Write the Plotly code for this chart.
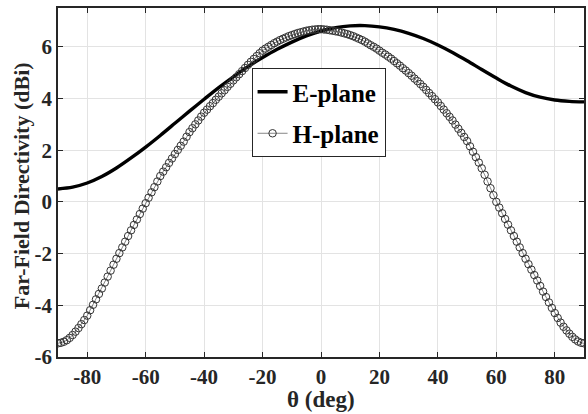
import plotly.graph_objects as go

# E-plane directivity (dBi), sampled every 5 degrees
e_theta = [-90, -85, -80, -75, -70, -65, -60, -55, -50, -45, -40, -35, -30, -25, -20, -15, -10, -5,
           0, 5, 10, 15, 20, 25, 30, 35, 40, 45, 50, 55, 60, 65, 70, 75, 80, 85, 90]
e_plane = [0.50, 0.57, 0.73, 0.98, 1.31, 1.70, 2.12, 2.57, 3.04, 3.51, 3.97, 4.42, 4.84, 5.23, 5.58, 5.90, 6.18, 6.42,
           6.61, 6.74, 6.81, 6.82, 6.77, 6.67, 6.52, 6.32, 6.07, 5.78, 5.46, 5.12, 4.79, 4.48, 4.23, 4.05, 3.94, 3.89, 3.87]

# H-plane directivity (dBi), sampled every degree from -90 to 90
h_theta = list(range(-90, 91))
h_plane = [
    -5.47, -5.45, -5.41, -5.35, -5.26, -5.15, -5.02, -4.88, -4.73, -4.57,
    -4.40, -4.19, -3.98, -3.77, -3.56, -3.35, -3.12, -2.89, -2.66, -2.43,
    -2.20, -1.98, -1.76, -1.54, -1.32, -1.10, -0.89, -0.68, -0.47, -0.26,
    -0.05, 0.16, 0.37, 0.57, 0.79, 1.00, 1.17, 1.34, 1.51, 1.68,
    1.85, 2.01, 2.17, 2.33, 2.52, 2.70, 2.85, 3.00, 3.15, 3.30,
    3.45, 3.57, 3.70, 3.82, 3.95, 4.07, 4.20, 4.32, 4.45, 4.57,
    4.70, 4.82, 4.94, 5.06, 5.18, 5.30, 5.42, 5.53, 5.64, 5.75,
    5.85, 5.93, 6.00, 6.07, 6.14, 6.20, 6.26, 6.31, 6.36, 6.41,
    6.45, 6.49, 6.53, 6.56, 6.59, 6.62, 6.64, 6.66, 6.67, 6.68,
    6.68,
    6.67, 6.66, 6.64, 6.62, 6.60, 6.58, 6.55, 6.52, 6.49, 6.45,
    6.41, 6.36, 6.31, 6.26, 6.20, 6.13, 6.06, 6.00, 5.93, 5.85,
    5.77, 5.70, 5.62, 5.54, 5.45, 5.36, 5.27, 5.17, 5.08, 4.98,
    4.88, 4.77, 4.67, 4.56, 4.45, 4.33, 4.21, 4.09, 3.97, 3.85,
    3.71, 3.57, 3.43, 3.29, 3.15, 2.99, 2.83, 2.67, 2.51, 2.35,
    2.15, 1.94, 1.73, 1.52, 1.30, 1.05, 0.79, 0.53, 0.26, 0.00,
    -0.22, -0.44, -0.66, -0.88, -1.10, -1.32, -1.54, -1.76, -1.98, -2.20,
    -2.41, -2.62, -2.83, -3.04, -3.25, -3.47, -3.68, -3.89, -4.10, -4.30,
    -4.49, -4.67, -4.83, -4.97, -5.10, -5.22, -5.32, -5.40, -5.45, -5.47,
]

x_ticks = [-80, -60, -40, -20, 0, 20, 40, 60, 80]
y_ticks = [-6, -4, -2, 0, 2, 4, 6]

FONT = "Times New Roman, Liberation Serif, serif"
INK = "#262626"

fig = go.Figure()
fig.add_trace(go.Scatter(
    x=e_theta, y=e_plane, name="<b>E-plane</b>", mode="lines", legendgroup="e",
    line=dict(color="black", width=3.4, shape="spline", smoothing=0.9),
))
fig.add_trace(go.Scatter(
    x=h_theta, y=h_plane, name="<b>H-plane</b>", mode="lines+markers", legendgroup="h",
    line=dict(color="#333333", width=0.6),
    marker=dict(symbol="circle-open", size=7.5, color="#333333", line=dict(width=1.0, color="#333333")),
))

axis_common = dict(
    showline=True, linecolor=INK, linewidth=1.5, mirror="ticks",
    ticks="inside", ticklen=5, tickwidth=1, tickcolor=INK,
    showgrid=True, gridcolor="#e3e3e3", gridwidth=1, zeroline=False,
    tickfont=dict(family=FONT, size=21, color=INK),
    automargin=False,
)

fig.update_layout(
    width=588, height=414,
    margin=dict(l=58, r=4, t=8, b=57),
    paper_bgcolor="white", plot_bgcolor="white",
    font=dict(family=FONT, color=INK),
    xaxis=dict(range=[-90, 90], tickvals=x_ticks, ticktext=[f"<b>{v}</b>" for v in x_ticks],
               **axis_common),
    yaxis=dict(range=[-6, 7.5], tickvals=y_ticks, ticktext=[f"<b>{v}</b>" for v in y_ticks],
               **axis_common),
    legend=dict(x=0.368, y=0.828, xanchor="left", yanchor="top",
                bgcolor="white", bordercolor=INK, borderwidth=1,
                font=dict(family=FONT, size=25, color="black"),
                itemwidth=30, tracegroupgap=6),
    showlegend=True,
    annotations=[
        dict(text="<b>θ (deg)</b>", xref="paper", yref="paper", x=0.5, y=-0.123,
             xanchor="center", yanchor="middle", showarrow=False,
             font=dict(family=FONT, size=23, color=INK)),
        dict(text="<b>Far-Field Directivity (dBi)</b>", xref="paper", yref="paper",
             x=-0.068, y=0.49, xanchor="center", yanchor="middle", textangle=-90, showarrow=False,
             font=dict(family=FONT, size=22, color=INK)),
    ],
)

fig.write_html("out.html", config={"displayModeBar": False},
               post_script="document.body.style.margin='0';document.body.style.overflow='hidden';")
